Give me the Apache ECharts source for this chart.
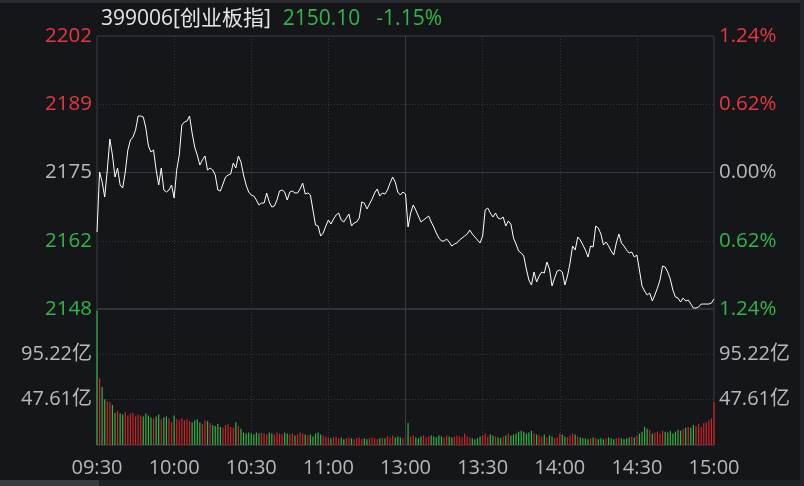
<!DOCTYPE html>
<html><head><meta charset="utf-8">
<script src="https://cdn.jsdelivr.net/npm/echarts@6/dist/echarts.min.js"></script>
<style>html,body{margin:0;padding:0;background:#15161a;}#c{width:804px;height:486px;}</style>
</head><body><div id="c"></div>
<script>
// ---- header values ----
const code = '399006';
const indexName = '创业板指';
const lastPrice = 2150.10;
const changePct = -1.15;
const prevClose = 2175.10;
const priceAxisMin = 2148.13;
const priceAxisMax = 2202.07;
const pctTicks = [-1.24, -0.62, 0, 0.62, 1.24];
const volTicks = [0, 47.61, 95.22, 142.83];
const timeTickLabels = ['09:30','10:00','10:30','11:00','13:00','13:30','14:00','14:30','15:00'];

// ---- categories (minutes) ----
function pad(n){return (n<10?'0':'')+n;}
const times = [];
for (let t = 9*60+30; t <= 11*60+30; t++) times.push(pad(Math.floor(t/60))+':'+pad(t%60));
for (let t = 13*60+1; t <= 15*60; t++) times.push(pad(Math.floor(t/60))+':'+pad(t%60));

// ---- price per minute ----
const prices = [
2163.34,2175.19,2173.22,2170.25,2175.59,2181.71,2178.55,2174.21,2175.98,2172.63,
2172.03,2175.19,2179.54,2181.52,2182.11,2183.49,2186.26,2186.26,2186.06,2183.89,
2180.33,2179.15,2179.54,2175.59,2172.63,2175.98,2171.64,2171.24,2171.64,2172.63,
2170.06,2175.59,2178.55,2184.48,2185.07,2185.27,2186.26,2182.90,2180.13,2178.55,
2176.58,2177.57,2178.36,2175.59,2175.98,2175.59,2174.60,2171.64,2171.44,2172.82,
2174.21,2174.60,2174.80,2176.97,2175.98,2178.36,2177.17,2174.60,2172.63,2171.24,
2170.65,2170.45,2169.66,2168.67,2169.07,2169.07,2171.05,2169.27,2168.28,2168.48,
2169.66,2171.44,2171.64,2171.24,2169.66,2171.24,2171.44,2171.05,2171.05,2171.84,
2173.02,2170.85,2171.05,2170.65,2167.69,2164.72,2164.52,2162.55,2163.14,2164.52,
2165.71,2164.92,2165.91,2166.70,2167.09,2165.71,2165.32,2166.11,2166.90,2164.52,
2165.12,2165.32,2166.11,2169.27,2169.07,2167.88,2168.87,2169.86,2171.05,2171.84,
2170.45,2171.05,2170.85,2171.64,2173.02,2174.21,2173.22,2171.24,2170.65,2171.24,
2170.85,2164.33,2167.09,2168.67,2167.69,2166.50,2165.32,2165.71,2166.11,2166.50,
2165.32,2164.33,2163.14,2162.15,2161.56,2161.56,2161.96,2161.36,2160.57,2160.97,
2161.17,2161.76,2162.15,2162.55,2162.94,2163.73,2162.94,2162.35,2161.76,2161.17,
2162.55,2167.69,2168.08,2167.09,2166.30,2167.09,2166.11,2165.91,2166.30,2164.52,
2165.51,2164.92,2162.15,2160.97,2159.59,2159.19,2158.60,2156.03,2153.86,2152.87,
2155.44,2153.46,2154.65,2155.44,2155.24,2157.41,2156.03,2152.67,2154.25,2155.63,
2155.83,2155.44,2152.87,2154.65,2157.21,2160.57,2159.78,2162.35,2161.76,2160.77,
2159.78,2158.40,2160.57,2160.38,2164.52,2164.13,2162.94,2160.77,2161.36,2160.57,
2159.59,2158.80,2161.17,2162.94,2161.17,2160.57,2159.78,2159.19,2159.39,2158.40,
2158.80,2155.83,2152.67,2151.68,2150.89,2151.29,2149.71,2150.89,2152.27,2153.86,
2156.62,2156.42,2155.44,2154.05,2151.88,2150.50,2150.30,2149.51,2150.30,2149.71,
2149.90,2149.11,2148.32,2148.32,2148.52,2149.11,2149.11,2149.11,2149.11,2149.31,2150.10
];

// ---- turnover per minute, 亿 ----
const volumes = [
141,70,61,48,46,45,42,34,36,33,
32,35,31,33,34,30,32,31,30,33,
31,29,28,30,32,27,29,30,28,24,
31,27,26,28,26,27,25,24,26,27,
24,22,26,25,23,21,20,22,19,18,
21,22,19,18,24,20,17,13,12,13,
12,11,13,12,13,12,11,13,12,11,
13,12,11,13,12,11,12,10,11,13,
12,11,10,11,9,12,13,11,10,9,
8,7,8,9,7,8,6,7,8,7,
6,7,8,6,7,6,7,8,7,6,
7,8,7,9,8,10,8,9,8,7,
8,23,9,10,8,7,9,10,8,9,
10,9,8,10,9,8,10,9,8,9,
10,9,8,12,9,8,7,6,7,9,
10,12,9,11,10,9,8,7,9,10,
12,10,11,12,14,15,14,12,13,15,
12,11,10,9,11,8,10,9,7,8,
12,11,9,8,10,12,11,9,8,7,
7,6,7,8,7,6,7,6,7,8,
7,6,7,8,7,6,7,8,9,8,
10,12,14,19,17,16,12,13,14,12,
15,14,13,15,12,14,16,15,17,18,
19,18,21,20,22,19,23,24,26,28,45
];

const RED = '#e5393e', GREEN = '#33b54a', GRAY = '#b9b9bc', LINE = '#3a3b40', DOT = '#34353b';
const FONT = '"Open Sans","Noto Sans CJK SC",sans-serif';

const barData = volumes.map((v, i) => {
  const ref = i === 0 ? prevClose : prices[i-1];
  const up = prices[i] >= ref;
  return { value: v, itemStyle: { color: up ? '#cf2428' : '#2fb545' } };
});

function pctColor(v){ return v > 0.001 ? RED : (v < -0.001 ? GREEN : GRAY); }
const mid = i => i % 30 === 0 && i > 0 && i < times.length - 1;

const chart = echarts.init(document.getElementById('c'));
chart.setOption({
  backgroundColor: '#15161a',
  animation: false,
  title: {
    left: 96, top: 4,
    text: '{w|' + code + '[' + indexName + ']}{g|' + lastPrice.toFixed(2) + '}{h|' + changePct.toFixed(2) + '%}',
    textStyle: { fontWeight: 'normal', rich: {
      w: { color: '#e6e6e6', fontSize: 21, fontWeight: 'normal', fontFamily: FONT },
      g: { color: GREEN, fontSize: 21, fontWeight: 'normal', fontFamily: FONT, padding: [0,0,0,12] },
      h: { color: GREEN, fontSize: 21, fontWeight: 'normal', fontFamily: FONT, padding: [0,0,0,16] }
    } }
  },
  grid: [
    { left: 97, right: 90, top: 36, height: 273, show: true, borderColor: LINE, borderWidth: 1, backgroundColor: 'transparent' },
    { left: 97, right: 90, top: 309, height: 136, show: true, borderColor: LINE, borderWidth: 1, backgroundColor: 'transparent' }
  ],
  xAxis: [
    { type: 'category', gridIndex: 0, data: times, boundaryGap: false,
      axisLine: { show: false }, axisTick: { show: false }, axisLabel: { show: false },
      splitLine: { show: true, interval: (i) => mid(i), lineStyle: { color: DOT, type: [1, 2] } } },
    { type: 'category', gridIndex: 1, data: times, boundaryGap: false,
      axisLine: { show: false }, axisTick: { show: false },
      axisLabel: { show: true, interval: (i) => i % 30 === 0, formatter: (v, i) => timeTickLabels[i / 30],
        color: GRAY, fontSize: 20, fontFamily: FONT, margin: 13 },
      splitLine: { show: true, interval: (i) => mid(i), lineStyle: { color: DOT, type: [1, 2] } } }
  ],
  yAxis: [
    { type: 'value', gridIndex: 0, position: 'left', min: pctTicks[0], max: pctTicks[4], interval: 0.62,
      axisLine: { show: false }, axisTick: { show: false },
      axisLabel: { fontSize: 20.5, fontFamily: FONT, margin: 5,
        formatter: v => String(Math.round(prevClose * (1 + v / 100))), color: v => pctColor(v) },
      splitLine: { show: true, lineStyle: { color: DOT, type: [1, 2] } } },
    { type: 'value', gridIndex: 0, position: 'right', min: pctTicks[0], max: pctTicks[4], interval: 0.62,
      axisLine: { show: false }, axisTick: { show: false },
      axisLabel: { fontSize: 20.5, fontFamily: FONT, margin: 5,
        formatter: v => Math.abs(v).toFixed(2) + '%', color: v => pctColor(v) },
      splitLine: { show: false } },
    { type: 'value', gridIndex: 0, min: priceAxisMin, max: priceAxisMax, show: false, splitLine: { show: false } },
    { type: 'value', gridIndex: 1, position: 'left', min: volTicks[0], max: volTicks[3], interval: volTicks[1],
      axisLine: { show: false }, axisTick: { show: false },
      axisLabel: { fontSize: 20, fontFamily: FONT, margin: 5, color: GRAY, showMinLabel: false, showMaxLabel: false,
        formatter: v => (v > 0 && v < volTicks[3] - 1) ? v.toFixed(2) + '亿' : '' },
      splitLine: { show: true, lineStyle: { color: DOT, type: [1, 2] } } },
    { type: 'value', gridIndex: 1, position: 'right', min: volTicks[0], max: volTicks[3], interval: volTicks[1],
      axisLine: { show: false }, axisTick: { show: false },
      axisLabel: { fontSize: 20, fontFamily: FONT, margin: 5, color: GRAY, showMinLabel: false, showMaxLabel: false,
        formatter: v => (v > 0 && v < volTicks[3] - 1) ? v.toFixed(2) + '亿' : '' },
      splitLine: { show: false } }
  ],
  series: [
    { type: 'line', xAxisIndex: 0, yAxisIndex: 2, data: prices, showSymbol: false, symbol: 'none',
      lineStyle: { color: '#ffffff', width: 1 }, z: 5,
      markLine: { silent: true, symbol: 'none', label: { show: false }, animation: false,
        lineStyle: { color: LINE, type: 'solid', width: 1 },
        data: [ { yAxis: prevClose }, { xAxis: 120 } ] } },
    { type: 'bar', xAxisIndex: 1, yAxisIndex: 3, data: barData, barWidth: 1.2,
      markLine: { silent: true, symbol: 'none', label: { show: false }, animation: false,
        lineStyle: { color: LINE, type: 'solid', width: 1 },
        data: [ { xAxis: 120 } ] } }
  ],
  graphic: [
    { type: 'rect', shape: { x: 0, y: 0, width: 804, height: 3 }, style: { fill: '#2a2b30' }, silent: true },
    { type: 'rect', shape: { x: 0, y: 480, width: 804, height: 6 }, style: { fill: '#202126' }, silent: true },
    { type: 'rect', shape: { x: 0, y: 480, width: 99, height: 6 }, style: { fill: '#3a3b40' }, silent: true },
    { type: 'rect', shape: { x: 800, y: 0, width: 4, height: 486 }, style: { fill: '#222328' }, silent: true }
  ]
});
</script></body></html>
